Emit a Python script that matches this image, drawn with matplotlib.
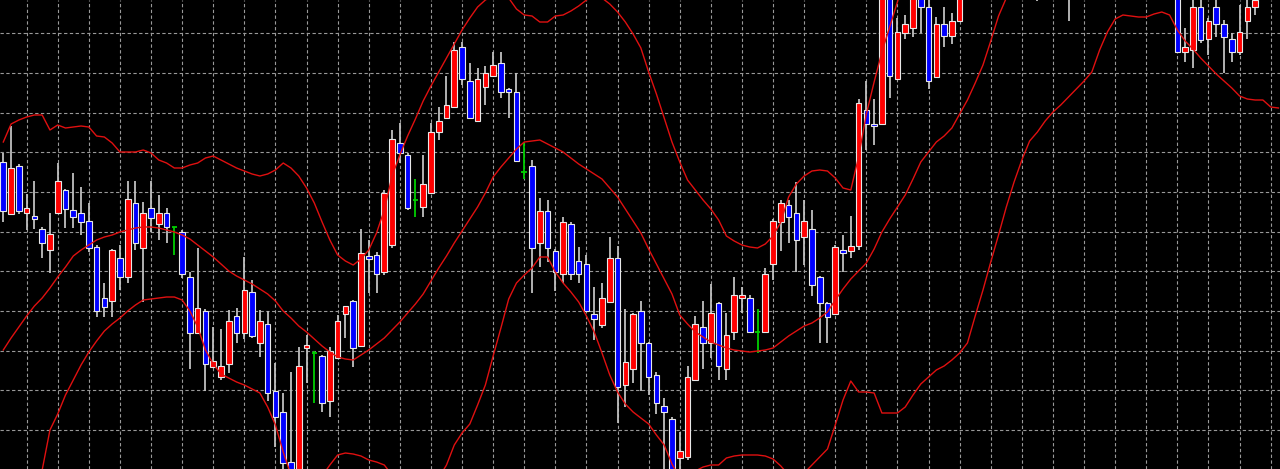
import numpy as np
import matplotlib.pyplot as plt

# candle prices (one value per bar, left to right)
open_ = [338, 286, 334, 287, 284, 271, 250, 287, 310, 290,
         287, 279, 253, 202, 199, 242, 223, 297, 252, 292,
         276, 287, 273, 268, 223, 167, 189, 133, 123, 136,
         184, 167, 208, 157, 176, 109, 88, 38, 22, 152,
         147, 144, 99, 142, 186, 199, 154, 244, 245, 228,
         255, 357, 345, 300, 293, 307, 368, 382, 393, 453,
         419, 379, 413, 424, 437, 411, 408, 328, 334, 257,
         289, 249, 226, 276, 239, 236, 186, 175, 198, 242,
         115, 131, 189, 157, 125, 94, 81, 42, 43, 120,
         173, 157, 197, 131, 168, 202, 202, 168, 168, 236,
         278, 295, 287, 263, 271, 223, 197, 186, 250, 249,
         254, 390, 376, 376, 505, 421, 467, 472, 510, 493,
         423, 476, 464, 479, 508, 538, 565, 548, 590, 612,
         572, 542, 518, 532, 530, 548, 578, 538, 512, 544,
         572, 532, 530, 555, 530, 528, 542, 524, 512, 536,
         520, 505, 448, 450, 493, 461, 493, 476, 461, 448,
         479, 493, 505, 528, 510]
high = [347, 374, 336, 306, 319, 273, 287, 337, 311, 327,
        313, 297, 255, 217, 251, 255, 319, 319, 298, 319,
        305, 292, 273, 270, 228, 252, 191, 173, 171, 190,
        192, 243, 220, 190, 189, 137, 107, 128, 153, 165,
        149, 145, 153, 185, 194, 200, 271, 260, 248, 310,
        370, 377, 347, 321, 345, 377, 393, 424, 458, 458,
        437, 432, 434, 448, 448, 412, 427, 357, 340, 302,
        300, 251, 283, 278, 253, 245, 213, 217, 263, 254,
        191, 187, 199, 158, 128, 102, 83, 68, 134, 184,
        199, 216, 198, 187, 223, 213, 205, 191, 232, 281,
        300, 300, 318, 300, 290, 224, 198, 255, 265, 284,
        401, 419, 401, 510, 515, 482, 485, 510, 520, 500,
        483, 493, 487, 510, 545, 570, 575, 600, 620, 625,
        580, 550, 540, 545, 560, 585, 590, 550, 555, 580,
        588, 545, 560, 565, 540, 550, 555, 540, 538, 545,
        530, 510, 472, 505, 500, 482, 505, 480, 467, 495,
        500, 505, 530, 535, 540]
low = [278, 285, 286, 270, 271, 242, 227, 286, 272, 272,
       265, 248, 183, 183, 183, 210, 217, 250, 198, 268,
       260, 257, 245, 222, 131, 166, 109, 132, 120, 127,
       157, 161, 162, 143, 99, 53, 30, 15, 20, 117,
       97, 88, 83, 141, 162, 133, 153, 207, 207, 225,
       252, 337, 290, 283, 283, 306, 360, 381, 392, 415,
       381, 378, 395, 423, 402, 382, 338, 321, 207, 233,
       238, 209, 217, 220, 217, 188, 160, 172, 197, 77,
       93, 117, 109, 105, 86, 30, 10, 31, 40, 119,
       131, 142, 120, 120, 160, 187, 167, 147, 167, 220,
       249, 257, 228, 235, 204, 157, 157, 185, 228, 242,
       250, 350, 355, 375, 402, 420, 461, 463, 467, 411,
       422, 453, 456, 478, 504, 530, 540, 544, 585, 560,
       535, 512, 510, 499, 525, 542, 528, 479, 506, 540,
       524, 506, 525, 518, 508, 522, 516, 504, 506, 510,
       502, 447, 438, 432, 457, 445, 463, 427, 438, 445,
       461, 485, 503, 508, 506]
close = [289, 332, 289, 292, 281, 257, 266, 319, 291, 283,
         278, 252, 189, 193, 250, 223, 301, 257, 287, 282,
         287, 273, 273, 226, 167, 192, 136, 139, 134, 179,
         167, 210, 164, 179, 107, 83, 37, 22, 134, 155,
         147, 97, 149, 179, 194, 152, 247, 241, 226, 307,
         361, 347, 292, 300, 316, 368, 379, 395, 450, 421,
         382, 421, 427, 435, 408, 408, 339, 328, 252, 289,
         252, 228, 278, 226, 226, 189, 181, 202, 242, 113,
         138, 186, 157, 123, 97, 88, 20, 49, 123, 176,
         157, 187, 134, 165, 205, 205, 168, 168, 226, 279,
         297, 283, 260, 279, 215, 197, 183, 253, 247, 254,
         397, 376, 374, 505, 424, 468, 476, 505, 493, 419,
         476, 464, 479, 505, 540, 562, 545, 592, 610, 570,
         540, 520, 530, 508, 550, 575, 535, 508, 545, 570,
         530, 512, 552, 526, 514, 540, 522, 510, 530, 516,
         505, 448, 453, 493, 460, 479, 476, 463, 448, 468,
         493, 500, 525, 512, 532]

# Bollinger bands
upper = [358, 376, 380, 383, 385, 385, 370, 375, 372, 373,
         374, 373, 364, 363, 357, 348, 348, 348, 350, 347,
         340, 337, 332, 332, 335, 337, 342, 344, 340, 336,
         332, 329, 326, 324, 326, 330, 337, 332, 324, 312,
         297, 278, 260, 245, 239, 235, 241, 250, 267, 290,
         324, 345, 364, 381, 399, 414, 428, 442, 456, 470,
         482, 493, 500, 504, 506, 502, 491, 485, 484, 478,
         478, 484, 485, 489, 494, 500, 505, 502, 496, 488,
         478, 466, 452, 428, 406, 382, 358, 338, 320, 310,
         300, 291, 280, 264, 259, 255, 253, 252, 256, 264,
         278, 303, 316, 324, 329, 330, 329, 322, 312, 310,
         343, 386, 418, 448, 473, 498, 525, 550, 575, 595,
         610, 625, 640, 660, 685, 710, 735, 760, 780, 795,
         805, 810, 812, 810, 805, 798, 790, 780, 770, 755,
         740, 730, 720, 712, 705, 700, 696, 693, 690, 688,
         686, 684, 682, 680, 678, 676, 674, 672, 670, 668,
         666, 664, 662, 660, 658]
middle = [150, 162, 173, 184, 194, 202, 212, 223, 233, 244,
          250, 255, 260, 263, 265, 268, 270, 272, 273, 273,
          272, 270, 268, 265, 261, 255, 249, 243, 236, 229,
          224, 220, 216, 211, 206, 199, 189, 182, 174, 168,
          161, 154, 148, 143, 141, 140, 145, 150, 156, 162,
          170, 178, 187, 196, 206, 219, 232, 244, 257, 269,
          281, 293, 307, 323, 333, 342, 351, 358, 359, 360,
          356, 352, 348, 342, 336, 331, 326, 321, 312, 303,
          291, 279, 267, 251, 236, 221, 206, 185, 176, 168,
          163, 158, 155, 152, 150, 149, 148, 149, 150, 152,
          158, 164, 169, 174, 177, 182, 188, 200, 211, 221,
          229, 237, 251, 268, 281, 293, 305, 321, 338, 348,
          358, 364, 372, 386, 400, 417, 435, 459, 484, 502,
          520, 540, 560, 580, 595, 605, 612, 616, 618, 618,
          616, 612, 608, 604, 600, 595, 590, 585, 580, 575,
          570, 566, 562, 558, 554, 550, 547, 544, 541, 538,
          535, 532, 530, 528, 526]
lower = [-20, -5, 5, 15, 22, 30, 70, 86, 105, 120,
         135, 148, 159, 169, 176, 182, 189, 195, 200, 201,
         202, 203, 203, 200, 189, 173, 150, 136, 126, 122,
         118, 115, 111, 107, 93, 75, 48, 25, 12, 12,
         16, 24, 35, 45, 47, 46, 44, 40, 38, 35,
         25, 15, 10, 10, 13, 17, 22, 35, 55, 67,
         76, 95, 115, 144, 172, 201, 217, 225, 232, 243,
         243, 228, 217, 208, 198, 184, 168, 147, 125, 108,
         96, 88, 82, 76, 65, 55, 36, 22, 22, 29,
         33, 35, 35, 42, 44, 45, 45, 45, 44, 41,
         34, 25, 22, 27, 35, 43, 51, 75, 100, 119,
         108, 108, 107, 87, 87, 87, 93, 105, 116, 123,
         130, 134, 140, 147, 157, 184, 210, 238, 265, 293,
         318, 340, 359, 368, 379, 388, 395, 403, 411, 419,
         428, 450, 468, 481, 485, 484, 483, 483, 486, 488,
         485, 470, 459, 451, 442, 434, 426, 419, 412, 404,
         401, 400, 400, 393, 392]

o = np.array(open_)
h = np.array(high)
l = np.array(low)
c = np.array(close)
x = np.arange(len(o))
up = c > o
down = c < o
flat = c == o

fig = plt.figure(figsize=(12.8, 4.69), dpi=100, facecolor="black")
ax = fig.add_axes([0, 0, 1, 1], facecolor="black")

# wicks
ax.vlines(x[~flat], l[~flat], h[~flat], color="#c0c0c0", lw=1.3, zorder=2)
# bodies
ax.bar(x[up], c[up] - o[up], bottom=o[up], width=0.72, color="#ff0000",
       edgecolor="#e8e8e8", linewidth=0.8, zorder=3)
ax.bar(x[down], o[down] - c[down], bottom=c[down], width=0.72, color="#0000ff",
       edgecolor="#e8e8e8", linewidth=0.8, zorder=3)
# doji
ax.vlines(x[flat], l[flat], h[flat], color="#00d000", lw=1.3, zorder=3)
ax.hlines(o[flat], x[flat] - 0.36, x[flat] + 0.36, color="#00d000", lw=1.3, zorder=3)

for band in (upper, middle, lower):
    ax.plot(x, band, color="#e01010", lw=1.0, zorder=4)

ax.set_xlim(-0.424, 164.2)
ax.set_ylim(31, 500)
ax.set_xticks(np.arange(3, len(x), 4))
ax.set_yticks(466.7 - 39.67 * np.arange(11))
ax.grid(True, color="#999999", linestyle=(0, (3, 2.2)), lw=0.8)
ax.set_axisbelow(True)
ax.tick_params(length=0, labelbottom=False, labelleft=False)
for s in ax.spines.values():
    s.set_visible(False)

fig.savefig("out.png", dpi=100, facecolor="black")
